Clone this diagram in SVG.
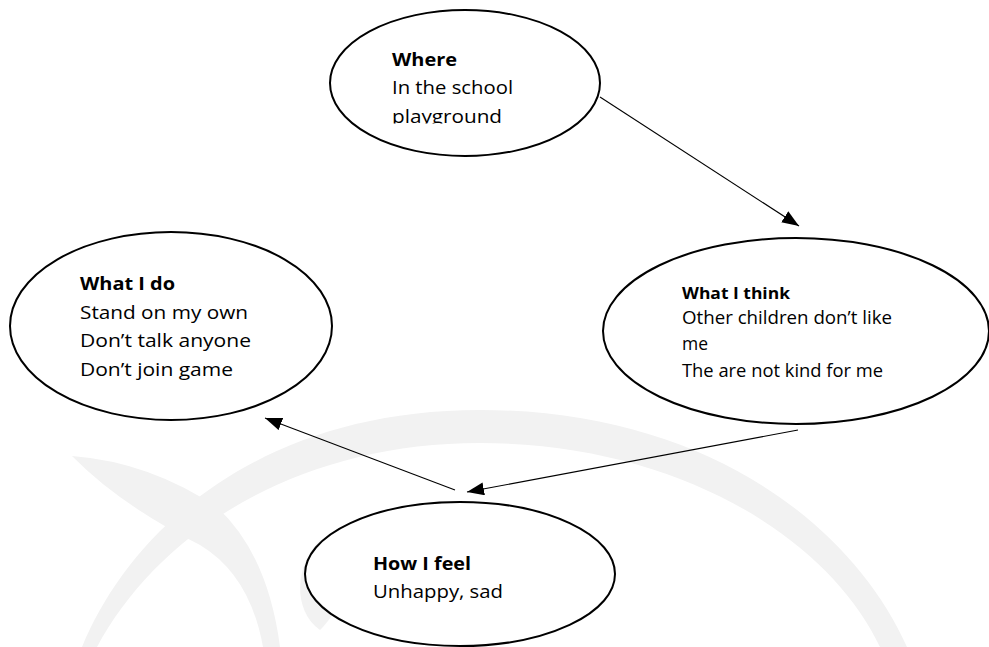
<svg xmlns="http://www.w3.org/2000/svg" width="989" height="647" viewBox="0 0 989 647">
  <defs>
    <style>
      .node { fill: #ffffff; stroke: #000000; stroke-width: 2; }
      .wm { fill: #f2f2f2; stroke: none; }
      .edge { stroke: #000000; stroke-width: 1.1; fill: none; marker-end: url(#arrow); }
      text { font-family: "Open Sans", "Noto Sans", "Liberation Sans", sans-serif; font-size: 17.5px; fill: #000000; }
      .title { font-weight: bold; }
    </style>
    <marker id="arrow" markerUnits="userSpaceOnUse" markerWidth="18" markerHeight="14" refX="17" refY="6.5" orient="auto">
      <path d="M0,0 L17,6.5 L0,13 Z" fill="#000000"/>
    </marker>
    <clipPath id="clipWhere">
      <rect x="330" y="30" width="270" height="93.5"/>
    </clipPath>
  </defs>
  <rect x="0" y="0" width="989" height="647" fill="#ffffff"/>

  <g id="watermark">
    <path class="wm" d="M82,647 C130,530 260,410 480,410 C700,410 850,520 907,647 L880,647 C830,540 680,443 480,443 C300,443 160,530 97,647 Z"/>
    <path class="wm" d="M72,456 Q150,462 218,508 Q268,555 280,647 L263,647 Q250,575 200,545 Q120,505 72,456 Z"/>
    <path class="wm" d="M320,540 C295,565 292,610 320,630 C335,615 345,595 350,560 Z"/>
  </g>

  <g id="connectors">
    <line class="edge" x1="600" y1="97" x2="799" y2="226"/>
    <line class="edge" x1="798" y1="430" x2="467" y2="492"/>
    <line class="edge" x1="455" y1="490" x2="265" y2="418"/>
  </g>

  <g id="node-where">
    <ellipse class="node" cx="465" cy="83" rx="135" ry="73"/>
    <g clip-path="url(#clipWhere)">
      <text class="title" x="392" y="65.5" textLength="65" lengthAdjust="spacingAndGlyphs">Where</text>
      <text x="392" y="94.3" textLength="121" lengthAdjust="spacingAndGlyphs">In the school</text>
      <text x="392" y="122.5" textLength="110" lengthAdjust="spacingAndGlyphs">playground</text>
    </g>
  </g>

  <g id="node-think">
    <ellipse class="node" cx="796" cy="331" rx="193" ry="93"/>
    <text class="title" x="682" y="299" textLength="108" lengthAdjust="spacingAndGlyphs" style="font-size:16.5px">What I think</text>
    <text x="682" y="324.3" textLength="210" lengthAdjust="spacingAndGlyphs">Other children don’t like</text>
    <text x="682" y="350" textLength="26" lengthAdjust="spacingAndGlyphs">me</text>
    <text x="682" y="376.7" textLength="201" lengthAdjust="spacingAndGlyphs">The are not kind for me</text>
  </g>

  <g id="node-do">
    <ellipse class="node" cx="171" cy="326" rx="161" ry="94"/>
    <text class="title" x="80" y="290" textLength="95" lengthAdjust="spacingAndGlyphs">What I do</text>
    <text x="80" y="318.5" textLength="168" lengthAdjust="spacingAndGlyphs">Stand on my own</text>
    <text x="80" y="347" textLength="171" lengthAdjust="spacingAndGlyphs">Don’t talk anyone</text>
    <text x="80" y="376" textLength="153" lengthAdjust="spacingAndGlyphs">Don’t join game</text>
  </g>

  <g id="node-feel">
    <ellipse class="node" cx="460" cy="574" rx="155" ry="72"/>
    <text class="title" x="373" y="570" textLength="98" lengthAdjust="spacingAndGlyphs">How I feel</text>
    <text x="373" y="598" textLength="130" lengthAdjust="spacingAndGlyphs">Unhappy, sad</text>
  </g>
</svg>
